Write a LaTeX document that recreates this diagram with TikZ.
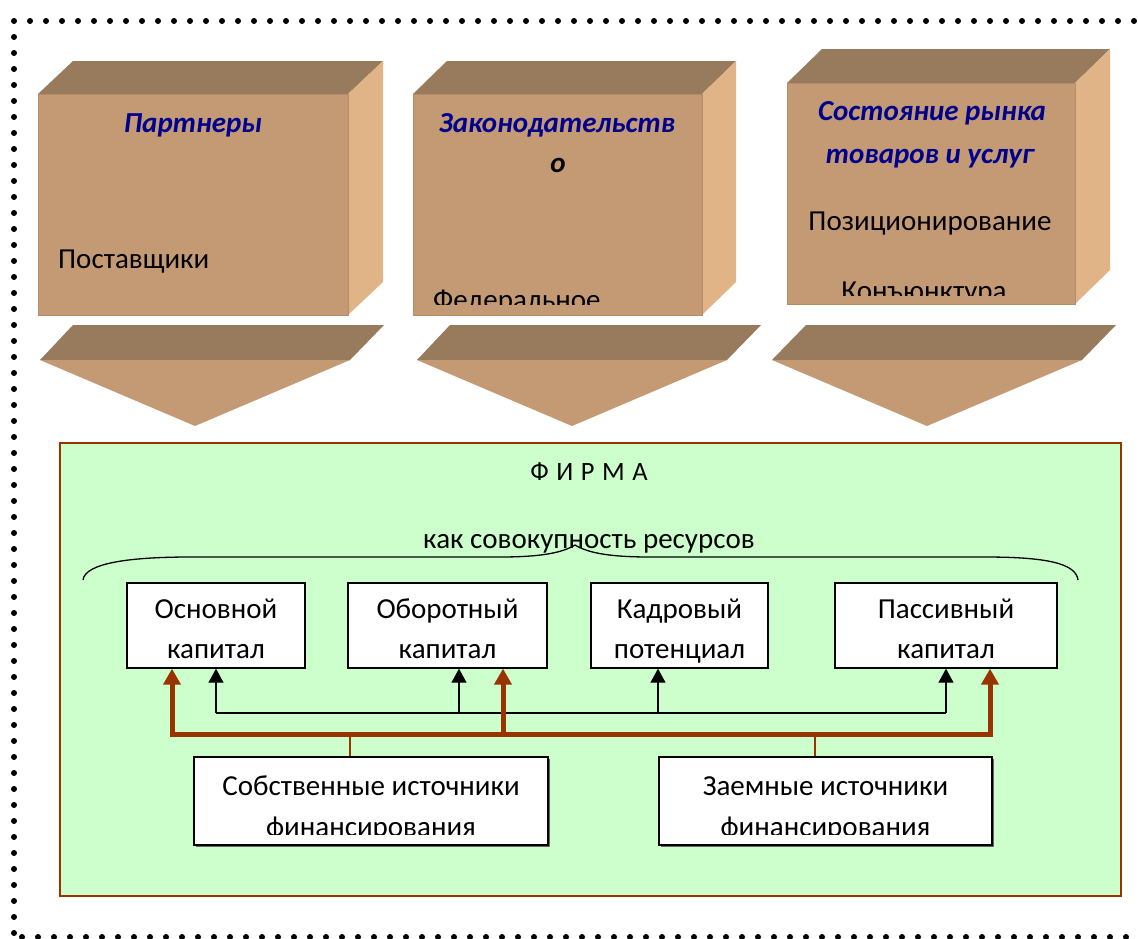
\documentclass[tikz,border=0pt]{standalone}
\usepackage{fontspec}
\setmainfont{Carlito}
\usetikzlibrary{arrows.meta}
\definecolor{facec}{HTML}{C49A74}
\definecolor{topc}{HTML}{987A5C}
\definecolor{sidec}{HTML}{E0B487}
\definecolor{navyt}{HTML}{00008C}
\definecolor{greenbg}{HTML}{CCFFCC}
\definecolor{brownl}{HTML}{993300}
\definecolor{edgec}{HTML}{B58C66}
\tikzset{
  dotc/.style={fill=black},
  face/.style={fill=facec, draw=edgec, line width=1pt},
  topface/.style={fill=topc},
  sideface/.style={fill=sidec},
  titletext/.style={text=navyt, font=\fontsize{29}{32}\selectfont\bfseries\itshape, inner sep=0pt},
  bodytext/.style={font=\fontsize{29}{32}\selectfont, inner sep=0pt},
  resbox/.style={draw=black, line width=1.3pt, fill=white, minimum width=178pt, minimum height=85pt, inner sep=0pt},
  srcbox/.style={draw=black, line width=1.3pt, fill=white, minimum height=88pt, inner sep=0pt},
  thinarrow/.style={draw=black, line width=1.2pt, -{Triangle[length=14pt,width=15pt]}},
  busarrow/.style={draw=brownl, line width=5pt, -{Triangle[length=16pt,width=17pt]}},
  feeder/.style={draw=brownl, line width=2pt}
}
\begin{document}
\begin{tikzpicture}[x=1pt,y=-1pt]
\useasboundingbox (0,0) rectangle (1138,938);
\fill[white] (0,0) rectangle (1138,938);
% dotted frame
\foreach \i in {0,...,70} { \fill[dotc] (14+16*\i,21) circle (3); }
\foreach \i in {1,...,57} { \fill[dotc] (14,21+16*\i) circle (3); }
\foreach \i in {0,...,70} { \fill[dotc] (22+16*\i,937) circle (3); }

% ---- cuboid 1
\fill[topface] (38,94) -- (73,61) -- (383,61) -- (348,94) -- cycle;
\fill[sideface] (348,94) -- (383,61) -- (383,282) -- (348,315) -- cycle;
\path[face] (38,94) rectangle (348,315);
\node[titletext, anchor=base] (t1) at (193,132) {Партнеры};
\node[bodytext, anchor=base west] (p1) at (58,268) {Поставщики};

% ---- cuboid 2
\fill[topface] (413,94) -- (447,61) -- (736,61) -- (702,94) -- cycle;
\fill[sideface] (702,94) -- (736,61) -- (736,282) -- (702,315) -- cycle;
\path[face] (413,94) rectangle (702,315);
\node[titletext, anchor=base] (t2) at (557,132) {Законодательств};
\node[titletext, text=black, anchor=base] (t2b) at (558,172) {о};
\begin{scope}
\clip (413,94) rectangle (702,304);
\node[bodytext, anchor=base west] (p2) at (433,309) {Федеральное};
\end{scope}

% ---- cuboid 3
\fill[topface] (787,83) -- (822,49) -- (1110,49) -- (1075,83) -- cycle;
\fill[sideface] (1075,83) -- (1110,49) -- (1110,270) -- (1075,304) -- cycle;
\path[face] (787,83) rectangle (1075,304);
\node[titletext, anchor=base] (t3) at (932,120) {Состояние рынка};
\node[titletext, anchor=base] (t3b) at (930,163) {товаров и услуг};
\node[bodytext, anchor=base] (p3) at (930,230) {Позиционирование};
\begin{scope}
\clip (787,83) rectangle (1075,295);
\node[bodytext, anchor=base] (p3b) at (924,300) {Конъюнктура};
\end{scope}

% ---- chevrons
\fill[topface] (73,325) -- (384,325) -- (350,360) -- (40,360) -- cycle;
\fill[facec] (40,360) -- (350,360) -- (195,426) -- cycle;
\fill[topface] (450,325) -- (761,325) -- (727,360) -- (417,360) -- cycle;
\fill[facec] (417,360) -- (727,360) -- (572,426) -- cycle;
\fill[topface] (806,325) -- (1116,325) -- (1082,360) -- (772,360) -- cycle;
\fill[facec] (772,360) -- (1082,360) -- (927,426) -- cycle;

% ---- firm
\path[fill=greenbg, draw=brownl, line width=1.2pt] (60,443) rectangle (1121,896);
\node[bodytext, font=\fontsize{26.5}{30}\selectfont, anchor=base] (firm) at (589,480) {\spaceskip=7.5pt\relax Ф И Р М А};
\node[bodytext, anchor=base] (res) at (589,548) {как совокупность ресурсов};
\draw[line width=1.3pt] (83,580) .. controls (85,563) and (130,557) .. (190,557) -- (500,557)
  .. controls (540,557) and (562,553) .. (575,545)
  .. controls (588,553) and (610,557) .. (650,557) -- (985,557)
  .. controls (1045,557) and (1076,563) .. (1078,580);

\node[resbox] (osn) at (216,625.5) {};
\node[resbox, minimum width=199pt] (obo) at (447.5,625.5) {};
\node[resbox, minimum width=177pt] (kad) at (679.5,625.5) {};
\node[resbox, minimum width=222pt] (pas) at (946,625.5) {};
\node[bodytext, anchor=base] (osnt1) at (osn.center |- 0,618) {Основной};
\node[bodytext, anchor=base] (osnt2) at (osn.center |- 0,658) {капитал};
\node[bodytext, anchor=base] (obot1) at (obo.center |- 0,618) {Оборотный};
\node[bodytext, anchor=base] (obot2) at (obo.center |- 0,658) {капитал};
\node[bodytext, anchor=base] (kadt1) at (kad.center |- 0,618) {Кадровый};
\node[bodytext, anchor=base] (kadt2) at (kad.center |- 0,658) {потенциал};
\node[bodytext, anchor=base] (past1) at (pas.center |- 0,618) {Пассивный};
\node[bodytext, anchor=base] (past2) at (pas.center |- 0,658) {капитал};

% black feeders
\coordinate (k1) at (216,713);
\coordinate (k2) at (459,713);
\coordinate (k3) at (658,713);
\coordinate (k4) at (946,713);
\draw[line width=1.2pt] (k1) -- (k4);
\draw[thinarrow] (k1) -- (k1 |- osn.south);
\draw[thinarrow] (k2) -- (k2 |- obo.south);
\draw[thinarrow] (k3) -- (k3 |- kad.south);
\draw[thinarrow] (k4) -- (k4 |- pas.south);

% source boxes
\fill[black!60] (196,759) rectangle (550,847);
\fill[black!60] (661,759) rectangle (994,847);
\node[srcbox, minimum width=354pt] (sob) at (371,801) {};
\node[srcbox, minimum width=333pt] (zae) at (825.5,801) {};
\begin{scope}
\clip (sob.north west) rectangle ([yshift=11pt]sob.south east);
\node[bodytext, anchor=base] (sobt1) at (371,795) {Собственные источники};
\node[bodytext, anchor=base] (sobt2) at (371,836) {финансирования};
\end{scope}
\begin{scope}
\clip (zae.north west) rectangle ([yshift=11pt]zae.south east);
\node[bodytext, anchor=base] (zaet1) at (825.5,795) {Заемные источники};
\node[bodytext, anchor=base] (zaet2) at (825.5,836) {финансирования};
\end{scope}

% brown bus
\coordinate (b1) at (172,734);
\coordinate (b2) at (503,734);
\coordinate (b3) at (990,734);
\coordinate (f1) at (350,734);
\coordinate (f2) at (815,734);
\draw[feeder] (sob.north -| f1) -- (f1);
\draw[feeder] (zae.north -| f2) -- (f2);
\draw[busarrow, {Triangle[length=16pt,width=17pt]}-{Triangle[length=16pt,width=17pt]}, line join=miter]
  (b1 |- osn.south) -- (b1) -- (b3) -- (b3 |- pas.south);
\draw[busarrow] (b2) -- (b2 |- obo.south);
\end{tikzpicture}
\end{document}
